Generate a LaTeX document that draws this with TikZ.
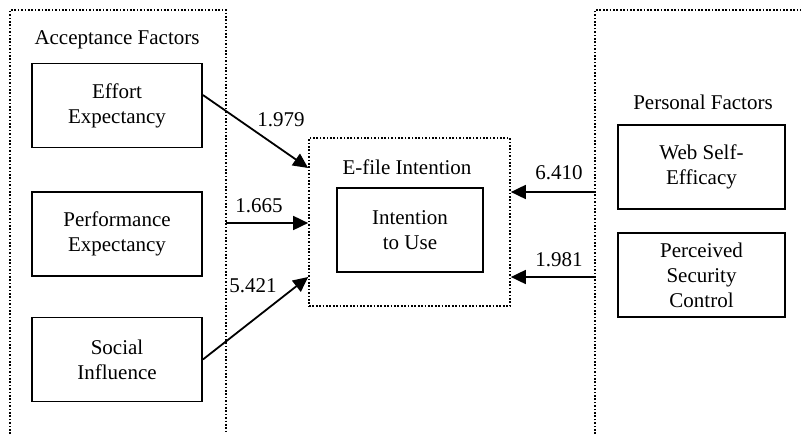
\documentclass[tikz,border=0pt]{standalone}
\usepackage{fontspec}
\setmainfont{Liberation Serif}
\usetikzlibrary{arrows.meta}
\begin{document}
\begin{tikzpicture}[x = 1pt, y = -1pt,
        font = \fontsize{21}{25}\selectfont,
        box/.style = {draw, line width = 1.8pt, align = center, inner sep = 0pt, minimum height = 84pt},
        frame/.style = {line width = 1.7pt, dash pattern = on 1.7pt off 1.7pt},
        link/.style = {line width = 1.8pt, -{Triangle[length = 15pt, width = 14pt]}},
        lbl/.style = {anchor = base, inner sep = 0pt}]
        \useasboundingbox (0, 0) rectangle (801, 434);
        \draw[frame] (10, 434) |- (226, 10) -- (226, 434);
        \draw[frame] (595, 434) |- (801, 10);
        \node[lbl] (accept) at (117, 44) {Acceptance Factors};
        \node[lbl] (personal) at (703, 109) {Personal Factors};
        \foreach \y/\name/\lab in {105.5/effort/Effort\\Expectancy, 234/perf/Performance\\Expectancy, 359.5/social/Social\\Influence}{
            \node[box, minimum width = 170pt] (\name) at (117, \y) {\lab};
        }
        \node[box, minimum width = 167pt] (web) at (701.5, 167) {Web Self-\\Efficacy};
        \node[box, minimum width = 167pt] (security) at (701.5, 275) {Perceived\\Security\\Control};
        \node[frame, draw, minimum width = 201pt, minimum height = 168pt, inner sep = 0pt] (efile) at (409.5, 222) {};
        \node[lbl] (efiletxt) at (407, 174) {E-file Intention};
        \node[box, minimum width = 146pt] (use) at (410, 230) {Intention\\to Use};
        \coordinate (accR) at (226, 223);
        \coordinate (persA) at (595, 192);
        \coordinate (persB) at (595, 277);
        \draw[link] ([yshift = 10.5pt]effort.east) -- ([yshift = 54pt]efile.west);
        \draw[link] (accR) -- (accR -| efile.west);
        \draw[link] (social.east) -- ([yshift = -55pt]efile.west);
        \draw[link] (persA) -- (persA -| efile.east);
        \draw[link] (persB) -- (persB -| efile.east);
        \node[lbl] (w1) at (281, 126) {1.979};
        \node[lbl] (w2) at (259, 212.7) {1.665};
        \node[lbl] (w3) at (253, 292.7) {5.421};
        \node[lbl] (w4) at (559, 179) {6.410};
        \node[lbl] (w5) at (559, 266) {1.981};
    \end{tikzpicture}
\end{document}
